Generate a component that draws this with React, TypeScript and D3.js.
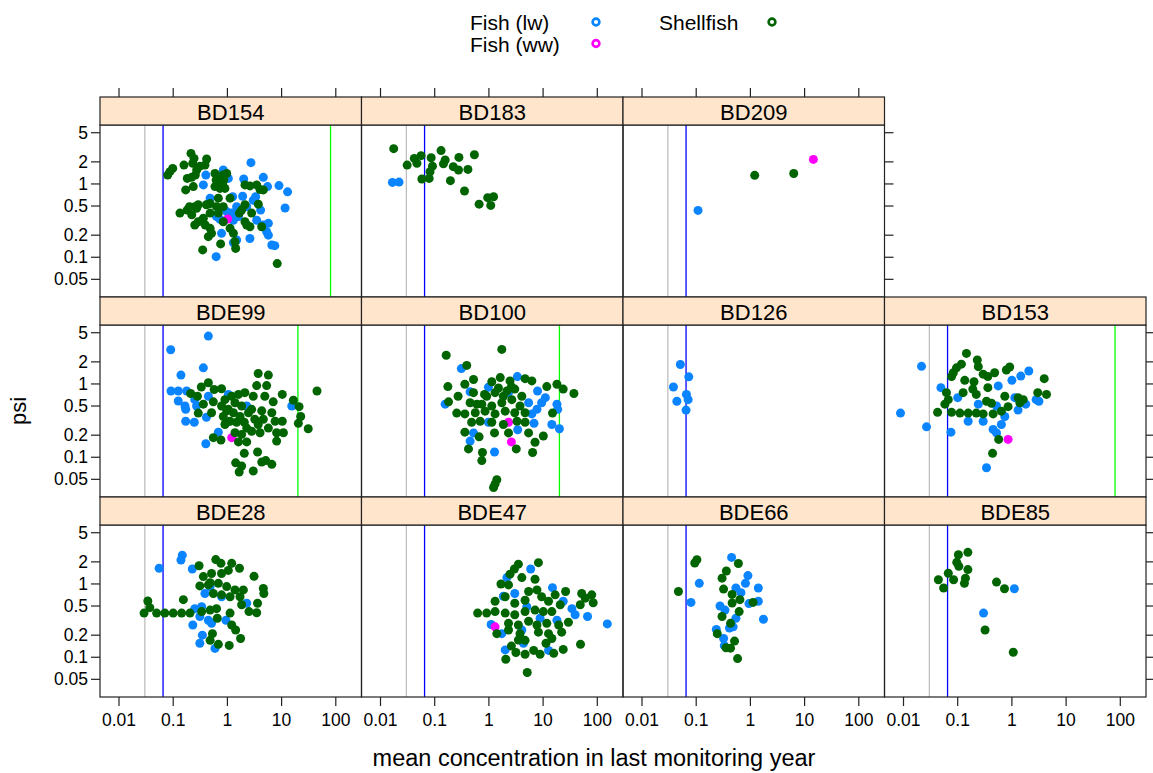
import React from "react";
import * as d3 from "d3";

const width = 1153;
const height = 773;
const gridLeft = 100;
const gridTop = 97;
const panelW = 261.5;
const stripH = 28;
const panelH = 172;
const rowStep = 200;
const font = "'Liberation Sans', Arial, Helvetica, sans-serif";

const xTicks = [0.01, 0.1, 1, 10, 100];
const yTicks = [0.05, 0.1, 0.2, 0.5, 1, 2, 5];
const groupNames = ["Fish (lw)", "Fish (ww)", "Shellfish"];
const groupColors = ["#0a84ff", "#ff00ff", "#006400"];
const greyLine = 0.03; // lower reference line
const blueLine = 0.065; // upper reference line

type Pt = [number, number]; // [concentration, psi]

// BD154
const bd154Lw: Pt[] = [[2.72,1.95],[4.6,1.23],[8.95,0.95],[12.9,0.78],[11.6,0.47],[5.5,0.92],[2.0,1.17],[1.04,1.19],[0.84,1.55],[0.4,1.32],[0.36,0.97],[0.48,0.64],[0.445,0.54],[1.25,0.67],[1.91,0.68],[3.32,0.67],[3.0,0.6],[0.97,0.42],[1.48,0.49],[1.2,0.4],[2.27,0.49],[4.1,0.44],[3.47,0.32],[4.6,0.275],[5.7,0.29],[5.3,0.223],[5.7,0.2],[2.6,0.18],[6.6,0.147],[7.5,0.144],[1.48,0.172],[1.29,0.158],[0.78,0.212],[0.62,0.102],[0.63,0.358],[0.73,0.33],[1.6,0.36],[1.29,0.32]];
const bd154Ww: Pt[] = [[1.01,0.333]];
const bd154Sh: Pt[] = [[0.213,2.61],[0.242,2.23],[0.229,1.91],[0.414,2.19],[0.386,1.81],[0.312,1.75],[0.158,1.81],[0.098,1.63],[0.087,1.47],[0.079,1.32],[0.182,1.19],[0.219,1.23],[0.235,0.92],[0.17,0.83],[0.271,1.55],[0.256,1.32],[0.59,1.39],[0.68,1.26],[0.82,1.32],[0.97,1.39],[0.78,1.13],[0.68,1.02],[0.82,0.97],[0.73,0.87],[0.59,0.92],[0.9,0.87],[0.75,1.08],[0.86,1.13],[0.62,1.13],[2.11,0.97],[2.61,0.94],[3.47,0.97],[4.0,0.84],[4.6,0.83],[1.12,0.64],[0.68,0.64],[0.48,0.54],[0.41,0.52],[0.29,0.52],[0.25,0.49],[0.2,0.49],[0.18,0.44],[0.133,0.4],[0.22,0.38],[0.27,0.465],[0.63,0.49],[0.84,0.49],[0.68,0.4],[0.48,0.4],[2.11,0.52],[1.83,0.44],[1.66,0.4],[2.8,0.4],[3.72,0.53],[0.36,0.34],[0.29,0.305],[0.25,0.275],[0.39,0.275],[0.48,0.248],[0.84,0.305],[1.12,0.248],[1.29,0.212],[2.11,0.305],[2.27,0.275],[2.61,0.261],[4.29,0.261],[0.51,0.212],[0.445,0.191],[0.75,0.152],[1.38,0.163],[1.42,0.132],[0.35,0.126],[8.3,0.082]];

// BD183
const bd183Lw: Pt[] = [[0.0166,1.05],[0.022,1.06]];
const bd183Sh: Pt[] = [[0.0175,3.03],[0.031,1.81],[0.042,2.23],[0.047,1.91],[0.056,2.43],[0.086,2.28],[0.091,1.75],[0.082,1.47],[0.058,1.17],[0.079,1.19],[0.131,2.85],[0.156,2.12],[0.145,1.88],[0.28,2.3],[0.54,2.5],[0.22,1.72],[0.275,1.55],[0.41,1.58],[0.195,1.11],[0.355,0.8],[0.66,0.53],[0.95,0.65],[1.22,0.67],[1.08,0.51]];

// BD209
const bd209Lw: Pt[] = [[0.108,0.436]];
const bd209Ww: Pt[] = [[14.5,2.16]];
const bd209Sh: Pt[] = [[1.2,1.31],[6.3,1.39]];

// BDE99
const bde99Lw: Pt[] = [[0.445,4.5],[0.09,2.93],[0.36,1.66],[0.139,1.32],[0.091,0.8],[0.124,0.8],[0.177,0.8],[0.124,0.585],[0.165,0.5],[0.17,0.45],[0.25,0.61],[0.27,0.5],[0.17,0.31],[0.245,0.3],[0.41,0.35],[0.68,0.22],[0.4,0.153],[0.97,0.3],[1.04,0.72],[2.27,0.5],[15.4,0.5],[0.445,0.68]];
const bde99Ww: Pt[] = [[1.2,0.185]];
const bde99Sh: Pt[] = [[3.7,1.39],[5.7,1.32],[3.47,0.95],[5.3,0.95],[0.445,1.04],[0.33,0.91],[0.57,0.84],[0.78,0.86],[0.21,0.74],[0.28,0.68],[0.36,0.53],[0.55,0.57],[0.51,0.405],[0.29,0.4],[0.9,0.61],[1.2,0.68],[1.6,0.72],[2.1,0.76],[0.78,0.5],[1.04,0.45],[1.38,0.555],[1.83,0.5],[3.0,0.68],[4.9,0.68],[7.0,0.57],[10.3,0.72],[16.5,0.6],[21,0.49],[22.5,0.36],[20.4,0.29],[31,0.245],[45,0.8],[2.8,0.45],[4.3,0.43],[6.6,0.405],[7.6,0.31],[10.3,0.31],[10.8,0.216],[8.1,0.216],[5.7,0.25],[4.0,0.216],[2.8,0.226],[2.05,0.3],[1.48,0.3],[1.12,0.31],[0.9,0.28],[0.84,0.36],[1.38,0.216],[1.83,0.205],[1.6,0.162],[2.27,0.162],[0.55,0.185],[0.76,0.172],[8.1,0.166],[2.05,0.113],[3.6,0.118],[1.42,0.084],[1.83,0.076],[1.65,0.063],[3.0,0.065],[4.3,0.086],[5.1,0.09],[6.6,0.08],[1.29,0.405],[2.45,0.405],[0.97,0.43],[1.71,0.36],[3.2,0.33],[4.6,0.33],[2.27,0.25],[3.7,0.28]];

// BD100
const bd100Lw: Pt[] = [[0.31,1.62],[3.35,1.26],[7.9,0.8],[11,0.65],[9.4,0.555],[7.7,0.45],[6.2,0.39],[18,0.53],[18.6,0.45],[14.5,0.28],[20,0.245],[6.8,0.29],[3.4,0.237],[0.156,0.53],[0.45,0.78],[0.45,0.166],[1.27,0.118],[0.52,0.215],[0.98,0.3],[2.3,0.76],[5.4,0.555],[0.98,0.9]];
const bd100Ww: Pt[] = [[2.6,0.162],[2.3,0.3]];
const bd100Sh: Pt[] = [[0.163,2.46],[1.73,2.96],[0.39,1.79],[0.175,0.92],[0.36,0.99],[0.52,1.15],[1.13,1.07],[1.62,1.22],[2.45,1.1],[4.65,1.18],[6.2,1.1],[11.7,0.92],[18,0.99],[23.5,0.85],[37,0.74],[0.27,0.68],[0.18,0.57],[0.52,0.76],[0.83,0.72],[1.3,0.76],[2.15,0.8],[3.0,0.85],[4.05,0.68],[0.45,0.555],[0.74,0.53],[1.13,0.5],[1.73,0.555],[2.65,0.61],[3.75,0.5],[0.255,0.4],[0.36,0.39],[0.56,0.405],[0.85,0.425],[1.3,0.39],[2.0,0.425],[3.0,0.405],[4.65,0.405],[0.69,0.31],[1.13,0.3],[1.85,0.28],[3.3,0.31],[4.65,0.3],[14.9,0.4],[0.36,0.22],[0.66,0.19],[1.27,0.215],[2.3,0.215],[5.4,0.215],[7.1,0.16],[10.1,0.195],[0.42,0.13],[0.76,0.116],[0.74,0.09],[3.2,0.13],[6.4,0.116],[1.4,0.0493],[1.22,0.0387],[1.3,0.0433],[0.6,0.53],[0.91,0.68],[1.5,0.88],[1.85,0.68],[2.6,0.92],[0.48,0.3]];

// BD126
const bd126Lw: Pt[] = [[0.051,1.84],[0.073,1.25],[0.038,0.91],[0.066,0.72],[0.071,0.61],[0.044,0.58],[0.065,0.44]];

// BD153
const bd153Lw: Pt[] = [[0.0215,1.74],[0.0088,0.4],[0.0266,0.26],[0.075,0.22],[0.049,0.89],[0.1,0.65],[0.24,0.53],[0.156,0.31],[0.295,0.31],[0.56,0.94],[0.52,0.5],[0.74,0.36],[1.0,1.12],[1.46,1.28],[2.05,1.5],[1.3,0.44],[1.8,0.53],[2.8,0.61],[3.15,0.58],[0.45,0.24],[0.64,0.28],[0.52,0.215],[0.34,0.072],[1.13,0.65]];
const bd153Ww: Pt[] = [[0.85,0.175]];
const bd153Sh: Pt[] = [[0.145,2.61],[0.117,1.86],[0.095,1.66],[0.083,1.42],[0.077,1.26],[0.23,2.12],[0.24,1.72],[0.295,1.36],[0.36,1.26],[0.48,1.42],[0.79,1.55],[0.91,1.7],[3.95,1.18],[0.135,1.12],[0.2,1.07],[0.19,0.85],[0.22,0.72],[0.36,0.89],[0.126,0.76],[0.062,0.76],[0.067,0.61],[0.058,0.53],[0.74,0.68],[0.34,0.58],[0.42,0.545],[1.3,0.65],[1.62,0.61],[1.4,0.555],[3.0,0.76],[4.35,0.72],[0.0425,0.41],[0.077,0.41],[0.11,0.4],[0.156,0.4],[0.22,0.4],[0.295,0.39],[0.45,0.39],[0.64,0.425],[0.85,0.49],[0.57,0.175],[0.44,0.113]];

// BDE28
const bde28Lw: Pt[] = [[0.147,2.47],[0.139,2.12],[0.055,1.64],[0.225,1.6],[0.385,0.74],[0.25,0.46],[0.335,0.49],[0.31,0.36],[0.445,0.32],[0.51,0.29],[0.23,0.275],[0.345,0.2],[0.31,0.155],[0.59,0.132],[0.94,0.32],[2.27,0.545],[0.48,0.92],[0.78,0.67]];
const bde28Sh: Pt[] = [[0.61,2.15],[0.76,1.91],[0.3,1.77],[1.2,1.91],[1.67,1.64],[1.04,1.53],[0.78,1.39],[0.51,1.39],[0.36,1.26],[3.1,1.27],[0.31,0.94],[0.445,0.97],[0.68,1.02],[0.97,0.92],[1.38,0.83],[1.97,0.83],[4.6,0.87],[4.7,0.74],[0.55,0.74],[0.78,0.71],[1.12,0.67],[1.71,0.67],[0.154,0.61],[1.83,0.52],[3.6,0.545],[0.034,0.585],[0.037,0.475],[0.029,0.4],[0.0495,0.4],[0.07,0.4],[0.1,0.4],[0.143,0.4],[0.204,0.4],[0.335,0.42],[0.48,0.44],[0.63,0.46],[2.5,0.42],[3.47,0.405],[1.12,0.4],[0.65,0.34],[1.2,0.275],[1.42,0.235],[1.75,0.18],[0.53,0.21],[0.48,0.17],[0.68,0.15],[1.08,0.145],[0.48,1.04]];

// BDE47
const bde47Lw: Pt[] = [[5.9,1.6],[14.9,0.89],[2.15,1.22],[1.85,0.68],[3.0,0.74],[5.0,0.49],[23.5,0.58],[34,0.46],[39,0.38],[66,0.36],[153,0.285],[18,0.32],[1.1,0.28],[1.73,0.21],[2.0,0.126],[4.35,0.155],[12.6,0.124],[4.05,0.235],[8.8,0.34]];
const bde47Ww: Pt[] = [[1.3,0.26]];
const bde47Sh: Pt[] = [[3.5,1.86],[2.95,1.6],[2.45,1.36],[8.2,1.95],[4.05,1.22],[7.1,1.16],[1.67,1.0],[2.3,0.97],[5.4,0.79],[7.7,0.83],[16.7,0.71],[26,0.79],[51.5,0.74],[79,0.71],[60,0.64],[84,0.555],[48.5,0.52],[2.0,0.67],[1.3,0.58],[3.0,0.545],[4.65,0.6],[9.4,0.67],[12.6,0.58],[20.7,0.52],[0.62,0.4],[0.91,0.4],[1.3,0.42],[2.0,0.4],[3.0,0.38],[4.65,0.42],[7.1,0.44],[10.1,0.42],[14.5,0.42],[2.3,0.29],[3.5,0.275],[5.4,0.31],[7.7,0.275],[11.7,0.29],[19.4,0.275],[29.3,0.3],[1.4,0.21],[2.3,0.235],[3.75,0.21],[8.2,0.22],[12.6,0.21],[22,0.22],[3.5,0.172],[4.65,0.17],[11.3,0.155],[14.5,0.18],[2.6,0.142],[3.15,0.116],[4.65,0.11],[6.7,0.124],[8.8,0.11],[15.7,0.113],[23.5,0.128],[49,0.15],[2.05,0.094],[5.1,0.062]];

// BDE66
const bde66Lw: Pt[] = [[0.45,2.3],[0.9,1.3],[0.81,1.02],[0.114,1.02],[1.4,0.88],[0.54,0.88],[0.67,0.76],[0.08,0.56],[0.275,0.5],[0.34,0.44],[1.4,0.58],[0.94,0.54],[0.54,0.34],[1.74,0.33],[0.41,0.25],[0.235,0.24],[0.32,0.18],[0.33,0.144],[0.48,0.26]];
const bde66Sh: Pt[] = [[0.103,2.14],[0.094,1.93],[0.047,0.79],[0.6,1.9],[0.36,1.5],[0.3,1.2],[0.32,0.85],[0.46,0.72],[0.64,0.61],[0.46,0.55],[1.12,0.56],[0.62,0.42],[0.3,0.36],[0.43,0.29],[0.245,0.21],[0.51,0.166],[0.355,0.135],[0.43,0.133],[0.58,0.096]];

// BDE85
const bde85Lw: Pt[] = [[1.11,0.86],[0.3,0.4]];
const bde85Sh: Pt[] = [[0.154,2.7],[0.103,2.5],[0.096,1.97],[0.105,1.74],[0.154,1.57],[0.067,1.4],[0.084,1.14],[0.044,1.14],[0.055,0.88],[0.139,1.2],[0.133,1.02],[0.52,1.06],[0.73,0.86],[0.32,0.235],[1.06,0.117]];

const none: Pt[] = [];

const panels = [
  { name: "BD154", row: 0, col: 0, groups: [bd154Lw, bd154Ww, bd154Sh], limit: 80 },
  { name: "BD183", row: 0, col: 1, groups: [bd183Lw, none, bd183Sh], limit: null },
  { name: "BD209", row: 0, col: 2, groups: [bd209Lw, bd209Ww, bd209Sh], limit: null },
  { name: "BDE99", row: 1, col: 0, groups: [bde99Lw, bde99Ww, bde99Sh], limit: 20 },
  { name: "BD100", row: 1, col: 1, groups: [bd100Lw, bd100Ww, bd100Sh], limit: 20 },
  { name: "BD126", row: 1, col: 2, groups: [bd126Lw, none, none], limit: null },
  { name: "BD153", row: 1, col: 3, groups: [bd153Lw, bd153Ww, bd153Sh], limit: 80 },
  { name: "BDE28", row: 2, col: 0, groups: [bde28Lw, none, bde28Sh], limit: null },
  { name: "BDE47", row: 2, col: 1, groups: [bde47Lw, bde47Ww, bde47Sh], limit: null },
  { name: "BDE66", row: 2, col: 2, groups: [bde66Lw, none, bde66Sh], limit: null },
  { name: "BDE85", row: 2, col: 3, groups: [bde85Lw, none, bde85Sh], limit: null },
];

const x = d3.scaleLog().domain([0.00446, 298]).range([0, panelW]);
const y = d3.scaleLog().domain([0.0287, 6.37]).range([panelH, 0]);

const tickLen = 9;
const lastCol = [2, 3, 3];

export default function App() {
  return (
    <svg width={width} height={height} style={{ position: "absolute", left: 0, top: 0, fontFamily: font }}>
      <rect width={width} height={height} fill="#fff" />

      {/* legend */}
      <g fontSize={21}>
        <text x={470} y={29.5}>{groupNames[0]}</text>
        <text x={470} y={51.5}>{groupNames[1]}</text>
        <text x={659} y={29.5}>{groupNames[2]}</text>
        <circle cx={596} cy={22} r={3.4} fill="none" stroke={groupColors[0]} strokeWidth={2.6} />
        <circle cx={596} cy={43.5} r={3.4} fill="none" stroke={groupColors[1]} strokeWidth={2.6} />
        <circle cx={772} cy={22} r={3.4} fill="none" stroke={groupColors[2]} strokeWidth={2.6} />
      </g>

      {panels.map((p) => {
        const left = gridLeft + p.col * panelW;
        const stripTop = gridTop + p.row * rowStep;
        const top = stripTop + stripH;
        return (
          <g key={p.name}>
            <g transform={`translate(${left},${top})`}>
              <line x1={x(greyLine)} x2={x(greyLine)} y1={0} y2={panelH} stroke="#bebebe" strokeWidth={1.3} />
              <line x1={x(blueLine)} x2={x(blueLine)} y1={0} y2={panelH} stroke="#0000ff" strokeWidth={1.3} />
              {p.limit !== null && (
                <line x1={x(p.limit)} x2={x(p.limit)} y1={0} y2={panelH} stroke="#00ff00" strokeWidth={1.3} />
              )}
              {p.groups.map((pts, gi) =>
                pts.map((d, i) => (
                  <circle key={`${gi}-${i}`} cx={x(d[0])} cy={y(d[1])} r={4.5} fill={groupColors[gi]} />
                ))
              )}
              <rect width={panelW} height={panelH} fill="none" stroke="#222" strokeWidth={1.2} />
            </g>
            <rect x={left} y={stripTop} width={panelW} height={stripH} fill="#ffe5cc" stroke="#222" strokeWidth={1.2} />
            <text x={left + panelW / 2} y={stripTop + stripH / 2 + 1} textAnchor="middle" dominantBaseline="central" fontSize={22}>
              {p.name}
            </text>

            {/* left axis */}
            {p.col === 0 &&
              yTicks.map((t) => (
                <g key={`l${t}`}>
                  <line x1={left - tickLen} x2={left} y1={top + y(t)} y2={top + y(t)} stroke="#222" strokeWidth={1.2} />
                  <text x={left - tickLen - 3} y={top + y(t)} textAnchor="end" dominantBaseline="central" fontSize={17.5}>
                    {String(t)}
                  </text>
                </g>
              ))}
            {/* right axis */}
            {p.col === lastCol[p.row] &&
              yTicks.map((t) => (
                <line key={`r${t}`} x1={left + panelW} x2={left + panelW + tickLen} y1={top + y(t)} y2={top + y(t)} stroke="#222" strokeWidth={1.2} />
              ))}
            {/* top axis */}
            {p.row === 0 &&
              xTicks.map((t) => (
                <line key={`t${t}`} x1={left + x(t)} x2={left + x(t)} y1={stripTop - tickLen} y2={stripTop} stroke="#222" strokeWidth={1.2} />
              ))}
            {/* bottom axis */}
            {p.row === 2 &&
              xTicks.map((t) => (
                <g key={`b${t}`}>
                  <line x1={left + x(t)} x2={left + x(t)} y1={top + panelH} y2={top + panelH + tickLen} stroke="#222" strokeWidth={1.2} />
                  <text x={left + x(t)} y={top + panelH + tickLen + 14} textAnchor="middle" dominantBaseline="central" fontSize={17.5}>
                    {String(t)}
                  </text>
                </g>
              ))}
          </g>
        );
      })}

      <text x={594} y={758} textAnchor="middle" dominantBaseline="central" fontSize={23.5}>
        mean concentration in last monitoring year
      </text>
      <text transform={`translate(18,${gridTop + 1.5 * rowStep + 14}) rotate(-90)`} textAnchor="middle" dominantBaseline="central" fontSize={22}>
        psi
      </text>
    </svg>
  );
}
